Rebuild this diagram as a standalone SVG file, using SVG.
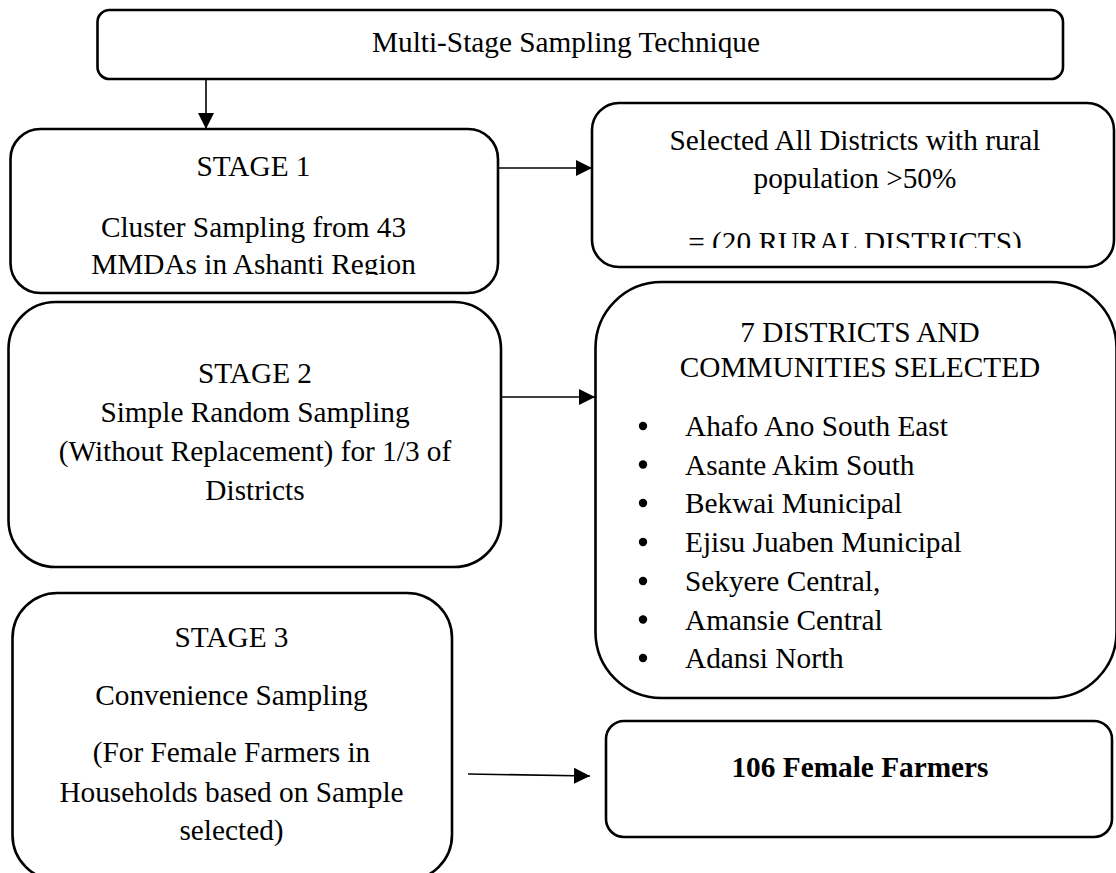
<svg xmlns="http://www.w3.org/2000/svg" width="1116" height="873" viewBox="0 0 1116 873">
<style>
.box{fill:#fff;stroke:#000;stroke-width:2.6}
.t{font-family:"Liberation Serif","Times New Roman",serif;font-size:29.3px;fill:#000}
.c{text-anchor:middle}
.b{font-weight:bold}
.conn{stroke:#000;stroke-width:1.6;fill:none}
</style>
<defs>
<marker id="ah" markerUnits="userSpaceOnUse" markerWidth="16" markerHeight="16" viewBox="0 0 16 16" refX="16" refY="8" orient="auto">
<path d="M0,0 L16,8 L0,16 z" fill="#000"/>
</marker>
<clipPath id="clip1"><rect x="0" y="0" width="1116" height="275"/></clipPath>
<clipPath id="clip2"><rect x="0" y="0" width="1116" height="248"/></clipPath>
</defs>
<rect width="1116" height="873" fill="#fff"/>

<g id="connectors">
<line class="conn" x1="206" y1="79" x2="206" y2="129" marker-end="url(#ah)"/>
<line class="conn" x1="498" y1="168" x2="592" y2="168" marker-end="url(#ah)"/>
<line class="conn" x1="501" y1="397" x2="595" y2="397" marker-end="url(#ah)"/>
<line class="conn" x1="468" y1="774" x2="590" y2="776" marker-end="url(#ah)"/>
</g>

<g id="top">
<rect class="box" x="97.5" y="10" width="965.5" height="69" rx="12"/>
<text class="t c" x="566" y="52">Multi-Stage Sampling Technique</text>
</g>

<g id="stage1">
<rect class="box" x="10.5" y="129" width="487.5" height="164" rx="30"/>
<text class="t c" x="253.5" y="176">STAGE 1</text>
<g clip-path="url(#clip1)">
<text class="t c" x="253.5" y="236.5">Cluster Sampling from 43</text>
<text class="t c" x="253.5" y="274">MMDAs in Ashanti Region</text>
</g>
</g>

<g id="rural">
<rect class="box" x="592" y="103" width="522" height="164" rx="27"/>
<text class="t c" x="855" y="150">Selected All Districts with rural</text>
<text class="t c" x="855" y="188">population &gt;50%</text>
<g clip-path="url(#clip2)">
<text class="t c" x="855" y="252">= (20 RURAL DISTRICTS)</text>
</g>
</g>

<g id="stage2">
<rect class="box" x="8.5" y="302" width="492.5" height="265" rx="47"/>
<text class="t c" x="255" y="383">STAGE 2</text>
<text class="t c" x="255" y="422">Simple Random Sampling</text>
<text class="t c" x="255" y="461">(Without Replacement) for 1/3 of</text>
<text class="t c" x="255" y="500">Districts</text>
</g>

<g id="districts">
<rect class="box" x="595.5" y="282" width="521" height="416" rx="66"/>
<text class="t c" x="860" y="342">7 DISTRICTS AND</text>
<text class="t c" x="860" y="377">COMMUNITIES SELECTED</text>
<g class="t">
<circle cx="643" cy="426" r="4.2"/><text x="685" y="436">Ahafo Ano South East</text>
<circle cx="643" cy="464.5" r="4.2"/><text x="685" y="474.5">Asante Akim South</text>
<circle cx="643" cy="503" r="4.2"/><text x="685" y="513">Bekwai Municipal</text>
<circle cx="643" cy="542" r="4.2"/><text x="685" y="552">Ejisu Juaben Municipal</text>
<circle cx="643" cy="581" r="4.2"/><text x="685" y="591">Sekyere Central,</text>
<circle cx="643" cy="619.5" r="4.2"/><text x="685" y="629.5">Amansie Central</text>
<circle cx="643" cy="658" r="4.2"/><text x="685" y="668">Adansi North</text>
</g>
</g>

<g id="stage3">
<rect class="box" x="12.5" y="593" width="439.5" height="287" rx="45"/>
<text class="t c" x="231.5" y="647">STAGE 3</text>
<text class="t c" x="231.5" y="705">Convenience Sampling</text>
<text class="t c" x="231.5" y="762">(For Female Farmers in</text>
<text class="t c" x="231.5" y="802">Households based on Sample</text>
<text class="t c" x="231.5" y="840">selected)</text>
</g>

<g id="farmers">
<rect class="box" x="606" y="721" width="506" height="116" rx="18"/>
<text class="t c b" x="860" y="777">106 Female Farmers</text>
</g>
</svg>
